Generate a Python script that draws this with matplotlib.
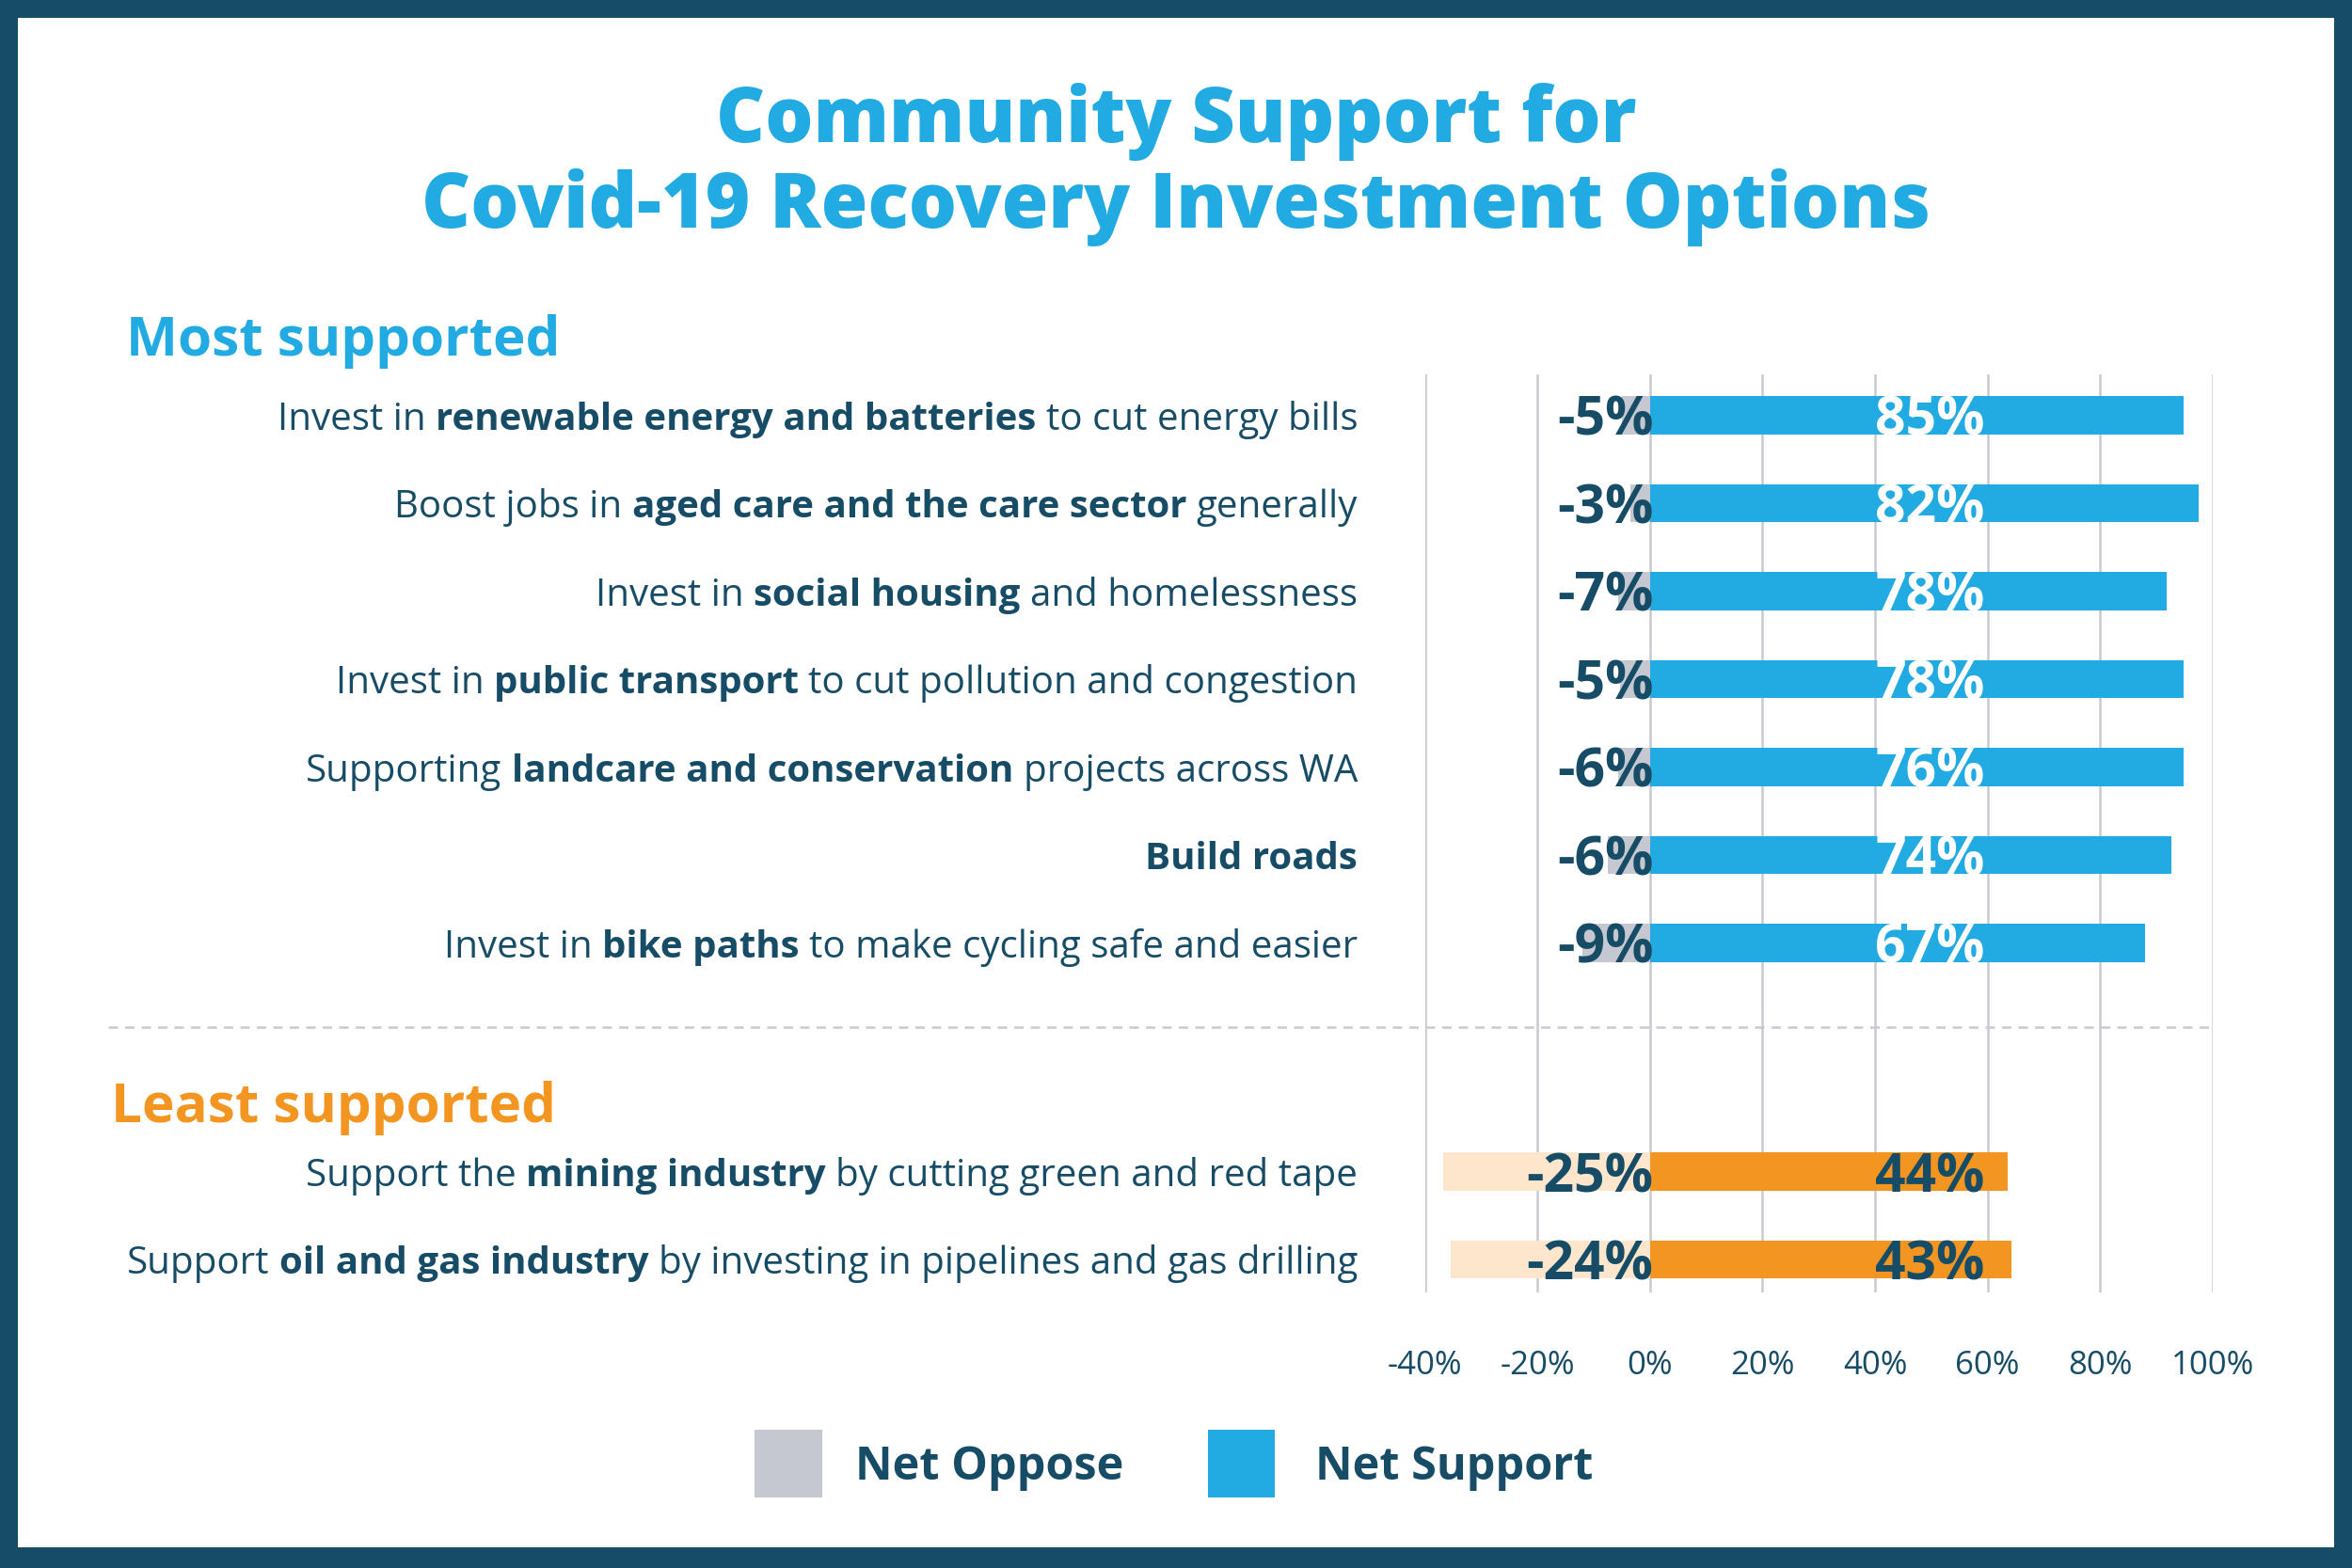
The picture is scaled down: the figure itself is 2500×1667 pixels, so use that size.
import matplotlib
matplotlib.use('Agg')
import matplotlib.pyplot as plt
import matplotlib.transforms as mtransforms
from matplotlib.patches import Rectangle
from matplotlib.lines import Line2D

DARK = '#174C66'
BLUE = '#22ABE2'
GRAY = '#C5C8D0'
ORANGE = '#F39621'
PEACH = '#FDE6CC'
GRID = '#C8CAD2'
FONT = 'Open Sans'

# rows, top to bottom; each label is a list of (text, bold) pieces
labels = [
    [('Invest in', False), ('renewable energy and batteries', True), ('to cut energy bills', False)],
    [('Boost jobs in', False), ('aged care and the care sector', True), ('generally', False)],
    [('Invest in', False), ('social housing', True), ('and homelessness', False)],
    [('Invest in', False), ('public transport', True), ('to cut pollution and congestion', False)],
    [('Supporting', False), ('landcare and conservation', True), ('projects across WA', False)],
    [('Build roads', True)],
    [('Invest in', False), ('bike paths', True), ('to make cycling safe and easier', False)],
    [('Support the', False), ('mining industry', True), ('by cutting green and red tape', False)],
    [('Support', False), ('oil and gas industry', True), ('by investing in pipelines and gas drilling', False)],
]
group = ['most'] * 7 + ['least'] * 2

# bar lengths as drawn, and the printed net figures
oppose_bar = [-5.0, -3.5, -5.6, -5.3, -5.6, -7.5, -12.0, -36.7, -35.5]
support_bar = [94.8, 97.5, 91.8, 94.8, 94.8, 92.7, 88.0, 63.6, 64.3]
oppose_label = [-5, -3, -7, -5, -6, -6, -9, -25, -24]
support_label = [85, 82, 78, 78, 76, 74, 67, 44, 43]

ticks = [-40, -20, 0, 20, 40, 60, 80, 100]

fig = plt.figure(figsize=(25, 16.67), dpi=100)
fig.patch.set_facecolor(DARK)
fig.patches.append(Rectangle((0.0077, 0.0134), 0.9846, 0.9751, transform=fig.transFigure,
                             facecolor='white', edgecolor='none', zorder=-5))

ax = fig.add_axes([0.6059, 0.176, 0.3348, 0.585])
ax.set_facecolor('none')
ax.set_zorder(2)

ypos = []
for i, g in enumerate(group):
    ypos.append(i if g == 'most' else i + 1.6)

for y, o, s, g in zip(ypos, oppose_bar, support_bar, group):
    neg_c, pos_c = (GRAY, BLUE) if g == 'most' else (PEACH, ORANGE)
    ax.barh(y, o, height=0.43, color=neg_c, zorder=2)
    ax.barh(y, s, height=0.43, color=pos_c, zorder=2)

off = mtransforms.offset_copy(ax.transData, fig=fig, x=0, y=-15.5, units='points')
for y, ol, sl, g in zip(ypos, oppose_label, support_label, group):
    ax.text(0.6, y, f'{ol}%', transform=off, ha='right', va='baseline', fontsize=41,
            fontweight='bold', color=DARK, family=FONT, zorder=3)
    ax.text(40, y, f'{sl}%', transform=off, ha='left', va='baseline', fontsize=41,
            fontweight='bold', color='white' if g == 'most' else DARK, family=FONT, zorder=3)

ax.set_xlim(-40, 100)
ax.set_ylim(9.97, -0.46)
ax.set_xticks(ticks)
ax.set_xticklabels([f'{t}%' for t in ticks], fontsize=25, color=DARK, family=FONT)
ax.tick_params(axis='x', length=0, pad=44)
ax.set_yticks([])
ax.grid(axis='x', color=GRID, linewidth=1.8, zorder=1)
ax.set_axisbelow(True)
for sp in ax.spines.values():
    sp.set_visible(False)

# mixed regular / bold row labels, laid out right to left
renderer = fig.canvas.get_renderer()
fig_w = fig.get_figwidth() * fig.dpi
lab_trans = mtransforms.blended_transform_factory(fig.transFigure, ax.transData)
lab_trans = mtransforms.offset_copy(lab_trans, fig=fig, x=0, y=-11, units='points')
probe = fig.text(0, 0, 'a a', fontsize=29, family=FONT)
w2 = probe.get_window_extent(renderer).width
probe.set_text('aa')
space = (w2 - probe.get_window_extent(renderer).width) / fig_w
probe.remove()

for y, pieces in zip(ypos, labels):
    x = 0.5772
    for txt, bold in reversed(pieces):
        t = fig.text(x, y, txt, transform=lab_trans, ha='right', va='baseline', fontsize=29,
                     fontweight='bold' if bold else 'normal', color=DARK, family=FONT)
        x -= t.get_window_extent(renderer).width / fig_w + space

fig.text(0.5, 0.9225, 'Community Support for', ha='center', va='center', fontsize=58,
         fontweight=800, color=BLUE, family=FONT)
fig.text(0.5, 0.868, 'Covid-19 Recovery Investment Options', ha='center', va='center', fontsize=58,
         fontweight=800, color=BLUE, family=FONT)
fig.text(0.0536, 0.782, 'Most supported', ha='left', va='center', fontsize=42,
         fontweight='bold', color=BLUE, family=FONT)
fig.text(0.0472, 0.2935, 'Least supported', ha='left', va='center', fontsize=42,
         fontweight='bold', color=ORANGE, family=FONT)

fig.lines.append(Line2D([0.046, 0.941], [0.345, 0.345], transform=fig.transFigure,
                        color=GRID, linewidth=1.8, linestyle=(0, (4, 3))))

# legend
for x0, c, name, tx in [(0.3208, GRAY, 'Net Oppose', 0.3635), (0.5134, BLUE, 'Net Support', 0.5593)]:
    fig.patches.append(Rectangle((x0, 0.045), 0.0287, 0.043, transform=fig.transFigure,
                                 facecolor=c, edgecolor='none'))
    fig.text(tx, 0.064, name, ha='left', va='center', fontsize=35, fontweight='bold',
             color=DARK, family=FONT)

fig.savefig('out.png', dpi=100, facecolor=fig.get_facecolor())
